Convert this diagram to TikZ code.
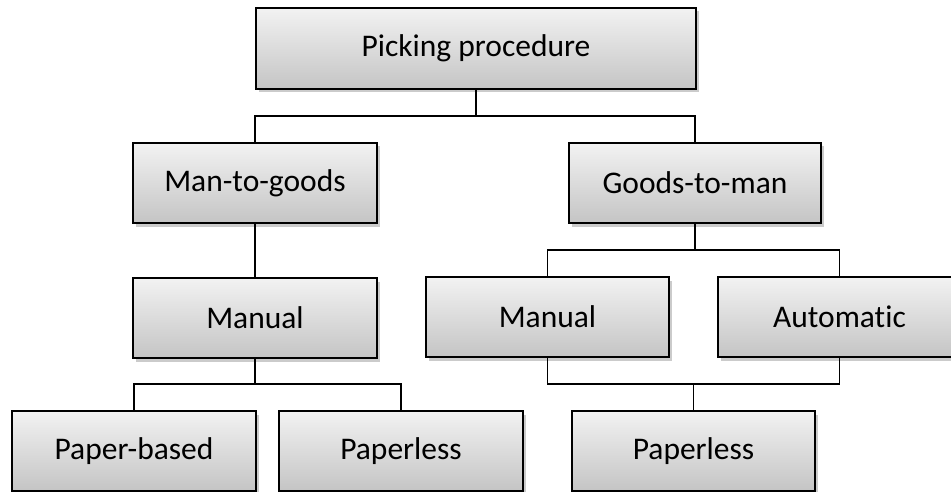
\documentclass[tikz,border=0pt]{standalone}
\usepackage{fontspec}
\setmainfont{Carlito}[RawFeature=-liga]
\usetikzlibrary{shadows}
\tikzset{
  box/.style={draw=black, line width=1.5pt, top color=black!5, bottom color=black!23,
    minimum height=80pt, inner sep=0pt, outer sep=0pt,
    font=\fontsize{31.5}{36}\selectfont,
    drop shadow={shadow xshift=3pt, shadow yshift=-3.5pt, fill=black!45, opacity=0.45}},
  conn/.style={draw=black, line width=1.3pt}
}
\begin{document}
\begin{tikzpicture}[x=1pt,y=-1pt]
\useasboundingbox (0,0) rectangle (951,492);
\node[box, minimum width=440pt, minimum height=81pt] (pp) at (476,48.5) {Picking procedure};
\node[box, minimum width=244pt] (mtg) at (255,183) {Man-to-goods};
\node[box, minimum width=252pt] (gtm) at (695,183) {Goods-to-man};
\node[box, minimum width=244pt] (manL) at (255,318) {Manual};
\node[box, minimum width=243pt] (manR) at (547.5,317) {Manual};
\node[box, minimum width=243pt] (auto) at (839.5,317) {Automatic};
\node[box, minimum width=244pt] (pb) at (134,451) {Paper-based};
\node[box, minimum width=244pt] (plL) at (401,451) {Paperless};
\node[box, minimum width=243pt] (plR) at (693.5,451) {Paperless};
% connectors
\draw[conn] (pp.south) -- ++(0,27) -| (mtg.north);
\draw[conn] (pp.south) -- ++(0,27) -| (gtm.north);
\draw[conn] (mtg.south) -- (manL.north);
\draw[conn] (gtm.south) -- ++(0,27) -| (manR.north);
\draw[conn] (gtm.south) -- ++(0,27) -| (auto.north);
\draw[conn] (manL.south) -- ++(0,26) -| (pb.north);
\draw[conn] (manL.south) -- ++(0,26) -| (plL.north);
\draw[conn] (manR.south) -- ++(0,27) -| (plR.north);
\draw[conn] (auto.south) -- ++(0,27) -| (plR.north);
\end{tikzpicture}
\end{document}
